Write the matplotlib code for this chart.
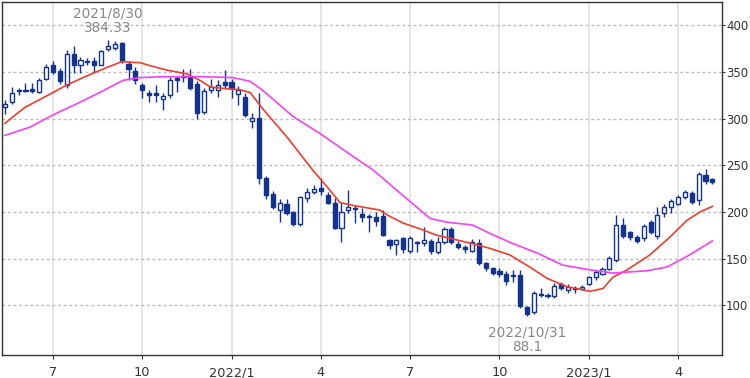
import matplotlib
matplotlib.use("Agg")
import matplotlib.pyplot as plt
import numpy as np

# weekly candles, week 0 = 2021/5/17 ... week 103 = 2023/5/8
opens = [312, 318, 330, 330, 332, 329, 343, 357, 351, 336, 369, 358, 361, 362, 358, 375,
         376, 381, 359, 351, 336, 328, 328, 321, 325, 344, 345, 346, 337, 307, 331, 331,
         339, 339, 326, 323, 298, 301, 236, 219, 202, 208, 200, 187, 215, 221, 226, 218,
         210, 183, 202, 204, 198, 196, 195, 196, 170, 166, 172, 158, 167, 167, 169, 157,
         168, 182, 166, 162, 158, 167, 145, 140, 137, 134, 131, 132, 98, 93, 111, 111,
         110, 123, 116, 117, 117, 123, 130, 134, 139, 148, 186, 178, 173, 172, 189, 174,
         199, 205, 209, 216, 220, 213, 240, 235]
highs = [320, 334, 333, 338, 338, 344, 359, 362, 354, 374, 378, 366, 365, 366, 374, 384.33,
         383, 382, 362, 355, 338, 331, 336, 327, 345, 346, 353, 353, 340, 333, 343, 341,
         352, 343, 335, 327, 306, 327, 238, 222, 214, 214, 201, 217, 226, 229, 236, 221,
         215, 210, 223, 207, 204, 198, 200, 202, 171, 171, 173, 174, 169, 184, 171, 173,
         184, 184, 169, 165, 171, 171, 146, 141, 140, 137, 138, 138, 99, 115, 119, 113,
         124, 125, 123, 121, 122, 131, 138, 141, 153, 197, 193, 180, 175, 187, 191, 205,
         208, 214, 218, 223, 222, 243, 246, 236]
lows = [305, 316, 325, 329, 328, 327, 341, 348, 337, 333, 349, 349, 357, 350, 357, 373,
        374, 360, 341, 337, 322, 318, 318, 309, 322, 329, 339, 331, 300, 305, 328, 323,
        333, 322, 315, 302, 290, 230, 214, 203, 189, 197, 185, 185, 211, 219, 218, 208,
        182, 168, 199, 188, 189, 178, 185, 174, 160, 154, 156, 156, 157, 163, 155, 155,
        166, 166, 160, 156, 157, 143, 137, 132, 130, 122, 125, 97, 88.1, 91, 109, 108,
        108, 116, 113, 113, 116, 122, 127, 132, 138, 146, 172, 170, 167, 169, 176, 171,
        195, 199, 207, 214, 209, 207, 230, 230]
closes = [316, 328, 331, 331, 330, 341, 355, 350, 340, 369, 358, 363, 362, 358, 372, 378,
          380, 362, 353, 341, 331, 325, 325, 324, 341, 341, 346, 333, 306, 330, 334, 336,
          336, 333, 331, 304, 301, 236, 218, 205, 210, 199, 187, 216, 221, 225, 222, 210,
          183, 200, 205, 203, 195, 195, 190, 175, 165, 170, 160, 172, 167, 170, 158, 168,
          182, 168, 162, 160, 168, 145, 140, 135, 133, 126, 132, 99, 91, 113, 112, 110,
          121, 118, 120, 118, 120, 130, 136, 139, 151, 186, 174, 173, 169, 185, 179, 197,
          205, 212, 216, 221, 211, 241, 233, 232]

# moving averages (week index, value)
ma13_week = [0, 2.9, 7, 9, 12, 14.9, 17, 19.7, 21, 23.6, 26.5, 28.4, 29.9, 32.3, 34.2, 35.7,
             37.6, 41.1, 44.8, 46.9, 48.8, 50.7, 54.6, 55.6, 58, 60.4, 62.9, 65.8, 68.1,
             70.6, 73.5, 76.4, 78.9, 81.8, 85.2, 87.1, 88.5, 90.6, 93.9, 96.8, 99.3, 101.2, 103]
ma13_val = [295, 312, 328, 336, 346, 355, 361, 360, 357, 352, 348, 341, 334, 332, 331, 328,
            310, 280, 245, 227, 210, 207, 202, 197, 188, 182, 175, 170, 166,
            161, 154, 141, 129, 120, 115, 118, 130, 138, 154, 173, 191, 200, 206]
ma26_week = [0, 3.7, 7, 10.5, 13.8, 17.2, 19.7, 23.6, 28.4, 33.2, 35.7, 37.6, 42, 45.9, 49.8,
             53.6, 57.1, 61.9, 64.4, 68.1, 70.6, 74, 77.5, 81.2, 85.2, 88.5, 93.5, 96.4, 99.7, 103]
ma26_val = [282, 291, 304, 316, 328, 341, 344, 345, 345, 344, 340, 330, 302, 284, 264,
            245, 223, 193, 189, 186, 177, 166, 156, 143, 138, 134.5, 137, 141, 154, 169]

month_ticks = [7, 20, 33, 46, 59, 72, 85, 98]
month_labels = ["7", "10", "2022/1", "4", "7", "10", "2023/1", "4"]

navy = "#14338f"
txt = "#333333"

fig = plt.figure(figsize=(7.5, 3.78), dpi=100)
ax = fig.add_axes([2 / 750, 23 / 378, 720 / 750, 353 / 378])

x = np.arange(len(opens))
o = np.array(opens)
c = np.array(closes)
up = c >= o

ax.vlines(x, lows, highs, color=navy, lw=1, zorder=3)
bottoms = np.minimum(o, c)
heights = np.maximum(np.abs(c - o), 0.8)
ax.bar(x[up], heights[up], bottom=bottoms[up], width=0.6, facecolor="white",
       edgecolor=navy, lw=1, zorder=4)
ax.bar(x[~up], heights[~up], bottom=bottoms[~up], width=0.6, facecolor=navy,
       edgecolor=navy, lw=1, zorder=4)

ax.plot(ma13_week, ma13_val, color="#f43c2c", lw=1.2, zorder=5)
ax.plot(ma26_week, ma26_val, color="#f542f5", lw=1.2, zorder=5)

hi = int(np.argmax(highs))
lo = int(np.argmin(lows))
ax.annotate("2021/8/30\n384.33", xy=(hi, highs[hi]), xytext=(0, 5),
            textcoords="offset pixels", ha="center", va="bottom", fontsize=9.8,
            color="#888888", linespacing=1.05)
ax.annotate("2022/10/31\n88.1", xy=(lo, lows[lo]), xytext=(0, -9),
            textcoords="offset pixels", ha="center", va="top", fontsize=9.8,
            color="#888888", linespacing=1.05)

ax.set_xlim(-0.42, 104.4)
ax.set_ylim(46.7, 425)
ax.set_xticks(month_ticks)
ax.set_xticklabels(month_labels)
ax.set_yticks(range(100, 401, 50))
ax.yaxis.tick_right()
ax.tick_params(axis="x", labelsize=9.3, colors=txt, length=3, pad=5)
ax.tick_params(axis="y", labelsize=8.5, colors=txt, length=2, pad=1)

for m in month_ticks:
    ax.axvline(m, color="#e3e3e3", lw=1.3, zorder=1)
for v in range(100, 401, 50):
    ax.axhline(v, color="#bbbbbb", lw=1, ls=(0, (2, 2)), zorder=1)

for s in ax.spines.values():
    s.set_color("#333333")
    s.set_linewidth(1)

fig.savefig("out.png", dpi=100)
